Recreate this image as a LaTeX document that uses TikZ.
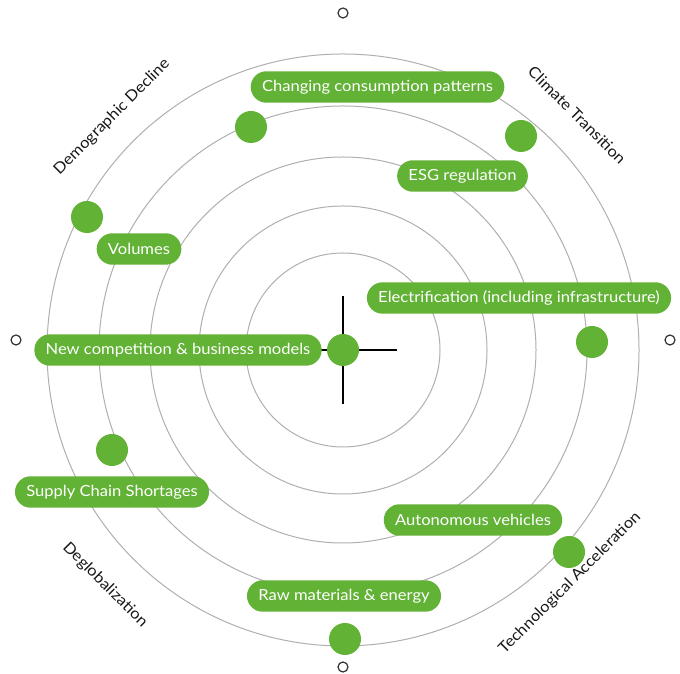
\documentclass[tikz,border=0pt]{standalone}
\usepackage{fontspec}
\setmainfont{Lato}[FakeStretch=1.08]
\usetikzlibrary{positioning}
\definecolor{RadarGreen}{RGB}{98,178,54}
\definecolor{RingGray}{RGB}{175,175,175}
\definecolor{MarkGray}{RGB}{50,50,50}

\begin{document}
\begin{tikzpicture}[x=0.75pt, y=0.75pt, font=\fontsize{11.5}{13}\selectfont,
	dot/.style={circle, fill=RadarGreen, minimum size=24pt, inner sep=0pt},
	pill/.style={rounded corners=11.8pt, fill=RadarGreen, text=white, minimum height=23.6pt, inner xsep=8.5pt, inner ysep=0pt},
	pole/.style={circle, draw=MarkGray, line width=0.9pt, minimum size=7.5pt, inner sep=0pt},
	trend/.style={text=black!90}]
	\useasboundingbox (0,0) rectangle (680,673);
	% anillos
	\coordinate (c) at (343,323);
	\foreach \r in {97,144,193,244,296}{\draw[RingGray, line width=0.75pt] (c) circle[radius=\r];}
	% polos
	\node[pole] (pn) at (343,660) {};
	\node[pole] (ps) at (343,6) {};
	\node[pole] (pw) at (16,333) {};
	\node[pole] (pe) at (670,333) {};
	% cruz central
	\coordinate (ct) at (343,377);
	\coordinate (cb) at (343,269);
	\coordinate (cl) at (289,323);
	\coordinate (cr) at (397,323);
	\draw[black, line width=0.9pt] (ct) -- (cb) (cl) -- (cr);
	% etiquetas
	\node[pill] (p1) at (377.5,586) {Changing consumption patterns};
	\node[pill] (p2) at (462.5,497) {ESG regulation};
	\node[pill] (p3) at (139,424) {Volumes};
	\node[pill] (p4) at (519,375) {Electrification (including infrastructure)};
	\node[pill] (p5) at (178,323) {New competition \& business models};
	\node[pill] (p6) at (112,181) {Supply Chain Shortages};
	\node[pill] (p7) at (473,153) {Autonomous vehicles};
	\node[pill] (p8) at (344,77) {Raw materials \& energy};
	% puntos
	\foreach \n/\x/\y in {d0/343/323, d1/251/546, d2/521/537, d3/87/456, d4/592/331, d5/112/223, d6/569/121, d7/345/34}
		{\node[dot] (\n) at (\x,\y) {};}
	% tendencias
	\node[trend, rotate=45] (t1) at (112,556) {Demographic Decline};
	\node[trend, rotate=-45] (t2) at (577,558) {Climate Transition};
	\node[trend, rotate=-45] (t3) at (105,88) {Deglobalization};
	\node[trend, rotate=45] (t4) at (570,90) {Technological Acceleration};
\end{tikzpicture}
\end{document}
